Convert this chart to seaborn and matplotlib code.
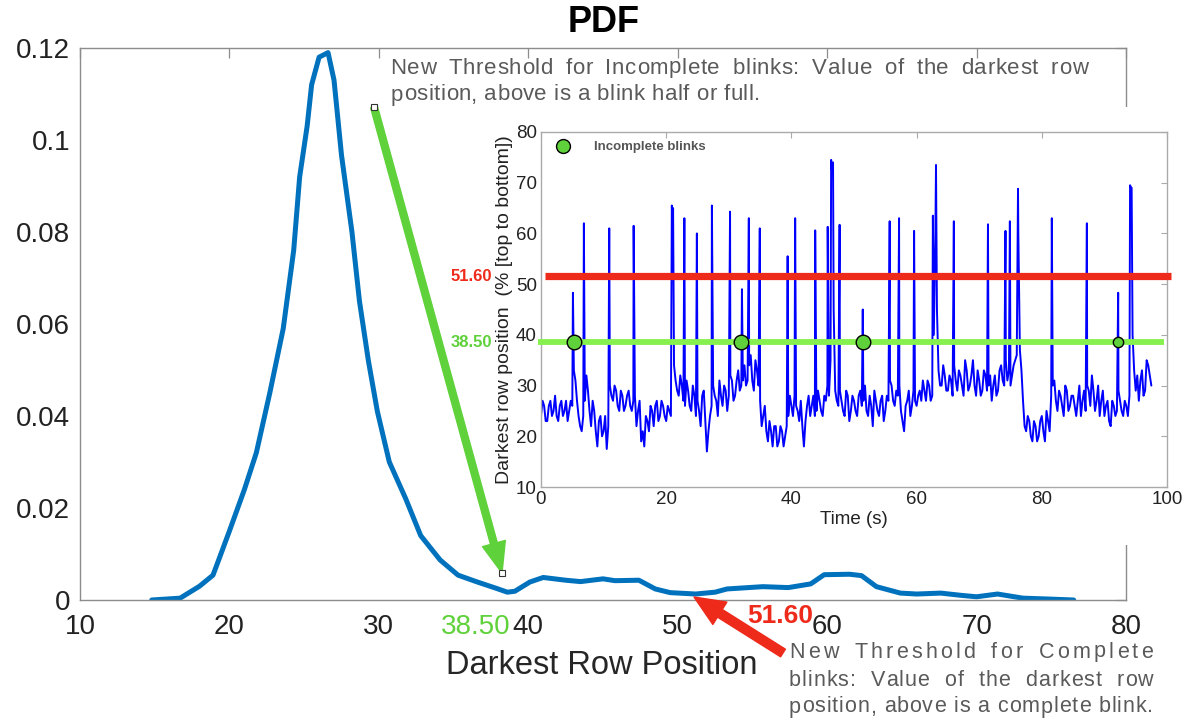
import numpy as np
import pandas as pd
import matplotlib
matplotlib.use("Agg")
import matplotlib.pyplot as plt
import matplotlib.transforms as mtransforms
import seaborn as sns
from matplotlib.patches import Rectangle, FancyArrowPatch
from matplotlib.lines import Line2D

# ---------------- data ----------------
pdf_x = [14.8, 16.7, 18.0, 18.9, 19.2, 20.0, 21.0, 21.8, 22.7, 23.6, 24.3, 24.7, 25.2, 25.5,
         26.0, 26.6, 27.0, 27.5, 28.2, 28.7, 29.3, 29.9, 30.7, 31.8, 32.8, 34.1, 35.3, 36.6,
         37.8, 38.6, 39.1, 40.1, 41.0, 42.5, 43.5, 45.0, 45.8, 47.4, 48.5, 49.5, 51.2, 52.5,
         53.3, 55.7, 57.4, 58.9, 59.8, 61.5, 62.3, 63.3, 64.9, 66.0, 67.6, 69.0, 70.0, 71.4,
         73.1, 74.9, 76.5]
pdf_y = [0, 0.0004, 0.003, 0.0054, 0.008, 0.015, 0.024, 0.032, 0.045, 0.059, 0.076, 0.092,
         0.103, 0.112, 0.118, 0.119, 0.113, 0.0967, 0.080, 0.065, 0.052, 0.041, 0.030, 0.022,
         0.014, 0.0087, 0.0054, 0.0039, 0.0026, 0.0017, 0.0019, 0.0039, 0.0049, 0.0043, 0.0040,
         0.0046, 0.0042, 0.0043, 0.0024, 0.0016, 0.0013, 0.0017, 0.0024, 0.0029, 0.0027, 0.0035,
         0.0055, 0.0056, 0.0053, 0.0029, 0.0015, 0.0013, 0.0015, 0.0010, 0.0007, 0.0013, 0.0004,
         0.0002, 0.0]

main_xticks = [10, 20, 30, 40, 50, 60, 70, 80]
main_yticks = [0, 0.02, 0.04, 0.06, 0.08, 0.10, 0.12]
main_ytick_labels = ["0", "0.02", "0.04", "0.06", "0.08", "0.1", "0.12"]

# darkest-row signal: samples at t = 0, 0.5, ... 97.5 s
signal_step = 0.5
signal_base = [
    24, 26, 23, 27, 25, 24, 26, 24, 27, 25,
    26, 31, 24, 21, 27, 29, 22, 25, 18, 24,
    21, 17.5, 30, 27, 29, 25, 28, 26, 29, 25,
    28, 25, 19, 18, 23, 26, 22, 27, 24, 26,
    23, 25, 61, 31, 28, 30, 26, 29, 25, 28,
    27, 22, 29, 17, 24, 30, 27, 31, 26, 29,
    28, 31, 28, 33, 30, 34, 31, 36, 29, 33,
    27, 24, 21, 23, 18, 22, 19, 21, 20, 24,
    26, 28, 25, 27, 18, 26, 24, 28, 25, 27,
    24, 27, 28, 72, 29, 26, 27, 24, 28, 25,
    27, 24, 29, 27, 25, 28, 22, 27, 24, 28,
    25, 27, 30, 26, 28, 25, 21, 27, 24, 29,
    26, 29, 31, 27, 30, 28, 60, 33, 30, 32,
    29, 31, 34, 29, 32, 28, 33, 30, 35, 28,
    31, 29, 32, 30, 27, 32, 29, 34, 30, 31,
    30, 34, 36, 37, 27, 21, 23, 19, 22, 20,
    24, 19, 23, 28, 31, 25, 28, 24, 29, 26,
    28, 24, 30, 27, 25, 29, 32, 25, 30, 27,
    24, 27, 22, 26, 25, 27, 24, 26, 28, 40,
    29, 27, 33, 29, 34, 30]
# samples in between, at t = 0.25, 0.75, ... 97.25 s
signal_mid = [
    27, 23, 26, 24, 28, 23, 27, 25, 23, 27,
    33, 27, 22, 24, 32, 25, 27, 21, 23, 20,
    24, 22, 28, 30, 26, 29, 25, 28, 26, 27,
    22, 27, 21, 24, 21, 25, 26, 23, 27, 24,
    26, 24, 34, 29, 32, 27, 31, 26, 30, 24,
    25, 28, 23, 21, 26, 28, 24, 28, 30, 25,
    32, 27, 31, 29, 31, 30, 34, 31, 35, 30,
    22, 26, 19, 21, 22, 18, 22, 18, 22, 28,
    24, 26, 23, 22, 23, 28, 26, 24, 29, 25,
    28, 30, 35, 45, 27, 29, 25, 29, 23, 28,
    25, 28, 26, 30, 24, 26, 29, 25, 27, 23,
    28, 31, 27, 29, 30, 23, 26, 29, 26, 27,
    28, 27, 29, 31, 27, 40, 45, 30, 34, 29,
    32, 28, 31, 33, 30, 35, 29, 32, 30, 33,
    28, 33, 29, 32, 30, 28, 33, 31, 35, 33,
    32, 35, 60, 33, 22, 24, 20, 23, 19, 23,
    21, 25, 21, 30, 27, 29, 26, 30, 25, 28,
    26, 27, 24, 29, 30, 26, 29, 27, 24, 29,
    26, 23, 27, 24, 29, 25, 27, 24, 69, 33,
    32, 31, 28, 35, 32]
# blink peaks
spike_t = [5.1, 6.85, 10.9, 14.8, 20.9, 21.1, 22.9, 24.9, 27.3, 30.2, 32.1, 33.2, 34.95,
           39.4, 40.6, 43.8, 45.8, 46.35, 46.65, 47.7, 51.4, 55.7, 57.2, 59.6, 62.6, 63.1,
           65.95, 71.4, 74.2, 74.9, 76.2, 81.6, 87.2, 92.2, 94.1, 94.35]
spike_v = [48.3, 62, 61, 61.5, 65.5, 65, 63, 60, 65.5, 64.3, 49, 63, 61,
           55.5, 63, 60.6, 61.3, 74.5, 74, 61.7, 45, 62.4, 63, 60.5, 63.5, 73.5,
           62.4, 61.8, 60.5, 62.4, 68.8, 63, 62, 48.3, 69.5, 69]

incomplete_t = [5.2, 32.0, 51.4, 92.2]
incomplete_y = [38.5, 38.5, 38.5, 38.5]
incomplete_s = [110, 110, 110, 55]

thr_complete = 51.6
thr_incomplete = 38.5
thr_complete_label = "51.60"
thr_incomplete_label = "38.50"

inset_xticks = [0, 20, 40, 60, 80, 100]
inset_yticks = [10, 20, 30, 40, 50, 60, 70, 80]

# ---------------- style ----------------
sns.set_style("white")
plt.rcParams["font.family"] = ["Liberation Sans", "DejaVu Sans"]

W, H = 1191, 720
fig = plt.figure(figsize=(W / 100, H / 100), dpi=100)


def P(x, y):
    return (x / W, 1 - y / H)


GREEN = "#5fd13a"
GREEN_LINE = "#86f04e"
RED = "#ee2a1b"
GRAY_TXT = "#5a5a5a"

# ---------------- main axes ----------------
ax = fig.add_axes([80 / W, 1 - 600 / H, (1126 - 80) / W, (600 - 48) / H])
ax.set_zorder(0)
pdf_df = pd.DataFrame({"pos": pdf_x, "pdf": pdf_y})
sns.lineplot(data=pdf_df, x="pos", y="pdf", ax=ax, color="#0072BD", lw=3.6,
             estimator=None, sort=False)
ax.set_xlim(10, 80)
ax.set_ylim(0, 0.12)
ax.set_xticks(main_xticks)
ax.set_yticks(main_yticks)
ax.set_yticklabels(main_ytick_labels)
ax.set_xlabel("")
ax.set_ylabel("")
ax.tick_params(direction="in", top=True, right=True, length=7, width=0.9,
               color="#8c8c8c", labelsize=20, labelcolor="#222222", pad=7)
ax.tick_params(axis="x", pad=10)
for s in ax.spines.values():
    s.set_color("#8c8c8c")
    s.set_linewidth(1.0)

# white patch of the pasted inset figure
fig.add_artist(Rectangle((440 / W, 1 - 545 / H), (W - 440) / W, (545 - 107) / H,
                         transform=fig.transFigure, facecolor="white",
                         edgecolor="none", zorder=0.5))

# ---------------- inset ----------------
axi = fig.add_axes([541 / W, 1 - 487 / H, (1167 - 541) / W, (487 - 132) / H])
axi.set_zorder(1)
t_base = list(np.arange(len(signal_base)) * signal_step)
t_mid = list(np.arange(len(signal_mid)) * signal_step + signal_step / 2)
sig_df = pd.DataFrame({"t": t_base + t_mid + spike_t,
                       "row": signal_base + signal_mid + spike_v}).sort_values("t")
sns.lineplot(data=sig_df, x="t", y="row", ax=axi, color="#0000ff", lw=1.4,
             estimator=None, sort=True, zorder=2)
axi.plot([0.7, 100.7], [thr_complete, thr_complete], color=RED, lw=5.2,
         solid_capstyle="butt", clip_on=False, zorder=3)
axi.plot([-0.4, 99.5], [thr_incomplete, thr_incomplete], color=GREEN_LINE, lw=4.2,
         solid_capstyle="butt", clip_on=False, zorder=3)
inc_df = pd.DataFrame({"t": incomplete_t, "y": incomplete_y, "s": incomplete_s})
for _, r in inc_df.iterrows():
    sns.scatterplot(x=[r["t"]], y=[r["y"]], ax=axi, s=r["s"], color=GREEN,
                    edgecolor="black", linewidth=1.0, zorder=4, legend=False)
axi.set_xlim(0, 100)
axi.set_ylim(10, 80)
axi.set_xticks(inset_xticks)
axi.set_yticks(inset_yticks)
axi.tick_params(direction="in", top=True, right=True, length=4, width=0.8,
                color="#aaaaaa", labelsize=13.5, labelcolor="#222222", pad=3)
for s in axi.spines.values():
    s.set_color("#aaaaaa")
    s.set_linewidth(1.0)
axi.set_xlabel("Time (s)", fontsize=13.5, color="#222222", labelpad=2)
axi.set_ylabel("Darkest row position  (% [top to bottom])", fontsize=14,
               color="#222222", labelpad=2)
leg_handle = Line2D([], [], marker="o", ls="", mfc=GREEN, mec="black", mew=1.0, ms=10)
axi.legend([leg_handle], ["Incomplete blinks"], loc="upper left",
           bbox_to_anchor=(0.0, 1.0), frameon=False, handletextpad=1.3,
           borderaxespad=0.3, prop={"weight": "bold", "size": 9.5}, labelcolor="#555555")
blend = mtransforms.blended_transform_factory(axi.transAxes, axi.transData)
axi.text(-0.078, thr_complete, thr_complete_label, transform=blend, ha="right", va="center",
         color=RED, fontsize=12, fontweight="bold")
axi.text(-0.078, thr_incomplete, thr_incomplete_label, transform=blend, ha="right",
         va="center", color=GREEN, fontsize=12, fontweight="bold")

# ---------------- figure texts ----------------
fig.text(*P(604, 22), "PDF", ha="center", va="center", fontsize=26, fontweight="bold",
         color="black")
fig.text(*P(602, 665), "Darkest Row Position", ha="center", va="center", fontsize=23.5,
         color="#262626")
fig.text(*P(511, 627), thr_incomplete_label, ha="right", va="center", fontsize=20,
         color=GREEN)
fig.text(*P(780, 616), thr_complete_label, ha="center", va="center", fontsize=19,
         fontweight="bold", color=RED)

renderer = fig.canvas.get_renderer()


def text_width(s, size):
    t = fig.text(0, 0, s, fontsize=size)
    w = t.get_window_extent(renderer).width
    t.remove()
    return w


def spaced_line(line, x0, x1, y, size, space_weight):
    """Lay a line out between x0 and x1, spreading extra room over letter gaps
    (weight 1) and word gaps (weight space_weight)."""
    space_w = text_width("a a", size) - text_width("aa", size)
    widths = [space_w if ch == " " else text_width(ch, size) for ch in line]
    weights = [space_weight if ch == " " or (i + 1 < len(line) and line[i + 1] == " ") else 1.0
               for i, ch in enumerate(line[:-1])]
    unit = (x1 - x0 - sum(widths)) / sum(weights)
    x = x0
    for i, (ch, w) in enumerate(zip(line, widths)):
        if ch != " ":
            fig.text(*P(x, y), ch, fontsize=size, color=GRAY_TXT, ha="left", va="center")
        if i < len(weights):
            x += w + unit * weights[i]


spaced_line("New Threshold for Incomplete blinks: Value of the darkest row", 390, 1088, 68, 16, 5)
spaced_line("position, above is a blink half or full.", 391, 760, 95, 16, 1)
spaced_line("New Threshold for Complete", 789, 1153, 652, 15.5, 1.5)
spaced_line("blinks: Value of the darkest row", 789, 1153, 680, 15.5, 5)
spaced_line("position, above is a complete blink.", 789, 1153, 707, 15.5, 1)

# ---------------- arrows ----------------
ga = FancyArrowPatch(P(374, 107), P(502, 573), transform=fig.transFigure,
                     arrowstyle="simple,head_length=2.2,head_width=1.7,tail_width=0.5",
                     mutation_scale=10, color=GREEN, shrinkA=0, shrinkB=0, zorder=5)
fig.add_artist(ga)
for px, py in [(374, 107), (502, 573)]:
    fig.add_artist(Line2D([P(px, py)[0]], [P(px, py)[1]], transform=fig.transFigure,
                          marker="s", ms=5, mfc="white", mec="#333333", mew=0.8, zorder=6))
ra = FancyArrowPatch(P(783, 653), P(694, 597), transform=fig.transFigure,
                     arrowstyle="simple,head_length=2.2,head_width=1.9,tail_width=0.65",
                     mutation_scale=10, color=RED, shrinkA=0, shrinkB=0, zorder=5)
fig.add_artist(ra)

fig.savefig("out.png", dpi=100)
